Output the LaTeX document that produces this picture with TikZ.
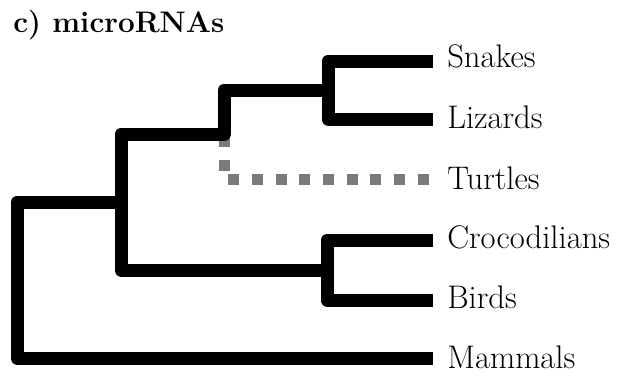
\documentclass[tikz,border=0pt]{standalone}
\definecolor{turtlegray}{RGB}{122,122,122}
\tikzset{
  branch/.style={line width=9.75pt, line join=round, line cap=butt, black},
  uncertain/.style={line width=8.25pt, turtlegray, line cap=butt, line join=miter,
    dash pattern=on 8.25pt off 9.5pt, dash phase=16.3pt},
  taxon/.style={anchor=base west, inner sep=0pt, font=\fontsize{24.5}{28}\selectfont},
  heading/.style={anchor=base west, inner sep=0pt, font=\fontsize{22.3}{26}\selectfont\bfseries}
}
\begin{document}
\begin{tikzpicture}[x=0.75pt,y=-0.75pt]
\useasboundingbox (0,0) rectangle (617,376);
\node[heading] (title) at (13,32) {c) microRNAs};
% internal nodes
\coordinate (nSL) at (328,90);
\coordinate (nCB) at (327,270);
\coordinate (nB) at (224,134);
\coordinate (nA) at (121,202);
\coordinate (nR) at (17,280);
% leaf ends
\coordinate (sn) at (433,61);
\coordinate (li) at (433,119);
\coordinate (tu) at (433,179);
\coordinate (cr) at (433,240);
\coordinate (bi) at (433,300);
\coordinate (ma) at (433,358);
% labels
\node[taxon] (lsn) at (447,67) {Snakes};
\node[taxon] (lli) at (447,128) {Lizards};
\node[taxon] (ltu) at (447,189) {Turtles};
\node[taxon] (lcr) at (447,248) {Crocodilians};
\node[taxon] (lbi) at (447,308) {Birds};
\node[taxon] (lma) at (447,368) {Mammals};
% uncertain turtles branch
\draw[uncertain] (nB) |- (tu);
% tree
\draw[branch] (sn) -| (nSL) |- (li);
\draw[branch] (cr) -| (nCB) |- (bi);
\draw[branch] (nSL) -| (nB) -| (nA) |- (nCB);
\draw[branch] (nA) -| (nR) |- (ma);
\end{tikzpicture}
\end{document}
